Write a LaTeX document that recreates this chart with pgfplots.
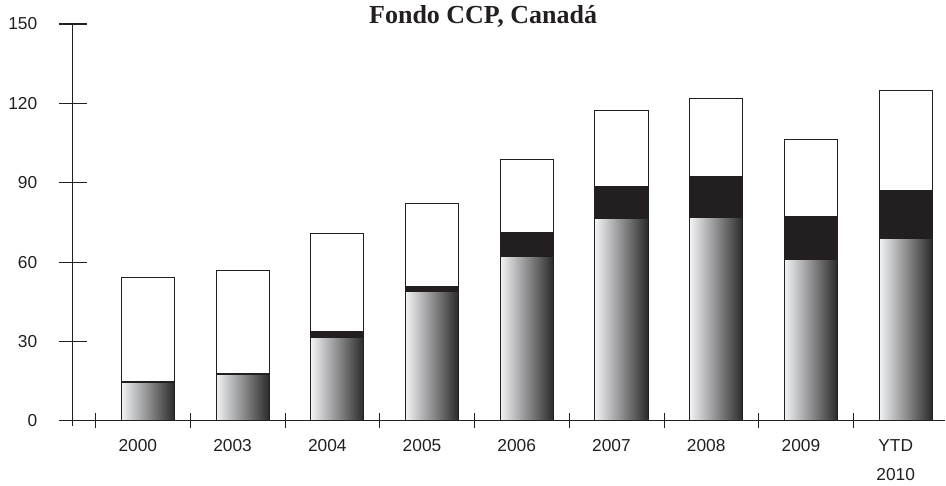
\documentclass[border=0pt]{standalone}
\usepackage{pgfplots}
\pgfplotsset{compat=1.18}
\usepackage{fontspec}
\setmainfont{Liberation Sans}
\newfontfamily\titlefont{Liberation Serif}
\definecolor{ink}{HTML}{231F20}
\definecolor{gradlight}{HTML}{F2F3F5}
\definecolor{graddark}{HTML}{2A2A2A}
\pgfplotsset{gbar/.style={ybar, bar shift=0pt, bar width=0.56, draw=ink, line width=0.7pt, left color=gradlight, right color=graddark}}
\begin{document}
\begin{tikzpicture}
\begin{axis}[
  scale only axis, width=654.75pt, height=297.75pt,
  xmin=-0.79, xmax=8.42, ymin=0, ymax=150,
  axis x line=bottom, axis y line=left,
  axis line style={-, ink, line width=0.8pt},
  ytick={0,30,...,150},
  tick align=center, major tick length=21pt,
  ytick style={ink, line width=0.8pt},
  xtick={0,...,8},
  xticklabels={2000,2003,2004,2005,2006,2007,2008,2009,{YTD\\2010}},
  xtick style={draw=none},
  /pgf/number format/assume math mode=true,
  tick label style={font=\fontsize{13}{22}\selectfont, text=ink},
  xticklabel style={anchor=north, align=center, xshift=-7.5pt},
  yticklabel style={anchor=east, xshift=-12.75pt},
  clip=false,
]
% totals (white top segment)
\addplot[ybar, bar shift=0pt, bar width=0.56, draw=ink, line width=0.7pt, fill=white] coordinates {
 (0,54.3) (1,56.8) (2,70.9) (3,82.2) (4,98.9) (5,117.2) (6,121.9) (7,106.2) (8,124.9)};
% black middle segment (top of black)
\addplot[ybar, bar shift=0pt, bar width=0.56, draw=ink, line width=0.7pt, fill=ink] coordinates {
 (0,15.0) (1,18.0) (2,33.7) (3,50.7) (4,71.3) (5,88.5) (6,92.3) (7,77.2) (8,86.9)};
% gradient bottom segment, one plot per bar
\addplot[gbar] coordinates {(0,14.6)};
\addplot[gbar] coordinates {(1,17.6)};
\addplot[gbar] coordinates {(2,31.6)};
\addplot[gbar] coordinates {(3,48.7)};
\addplot[gbar] coordinates {(4,62.1)};
\addplot[gbar] coordinates {(5,76.3)};
\addplot[gbar] coordinates {(6,76.8)};
\addplot[gbar] coordinates {(7,61.1)};
\addplot[gbar] coordinates {(8,69.0)};
\pgfplotsinvokeforeach{-0.55,0.45,1.45,2.45,3.45,4.45,5.45,6.45,7.45}{
  \draw[ink, line width=0.8pt] ([yshift=-5.5pt]axis cs:#1,0) -- ([yshift=5.5pt]axis cs:#1,0);
}
\draw[ink, line width=0.8pt] ([yshift=-4pt]axis cs:-0.79,0) -- (axis cs:-0.79,0);
\draw[ink, line width=0.8pt] ([xshift=-4.5pt]axis cs:-0.79,0) -- (axis cs:-0.79,0);
\node[anchor=base, text=ink, font=\titlefont\bfseries\fontsize{19.5}{20}\selectfont] at (axis cs:3.54,150) {Fondo CCP, Canadá};
\path ([xshift=-54.75pt,yshift=-45pt]rel axis cs:0,0) rectangle ([xshift=0pt,yshift=18pt]rel axis cs:1,1);
\end{axis}
\end{tikzpicture}
\end{document}
